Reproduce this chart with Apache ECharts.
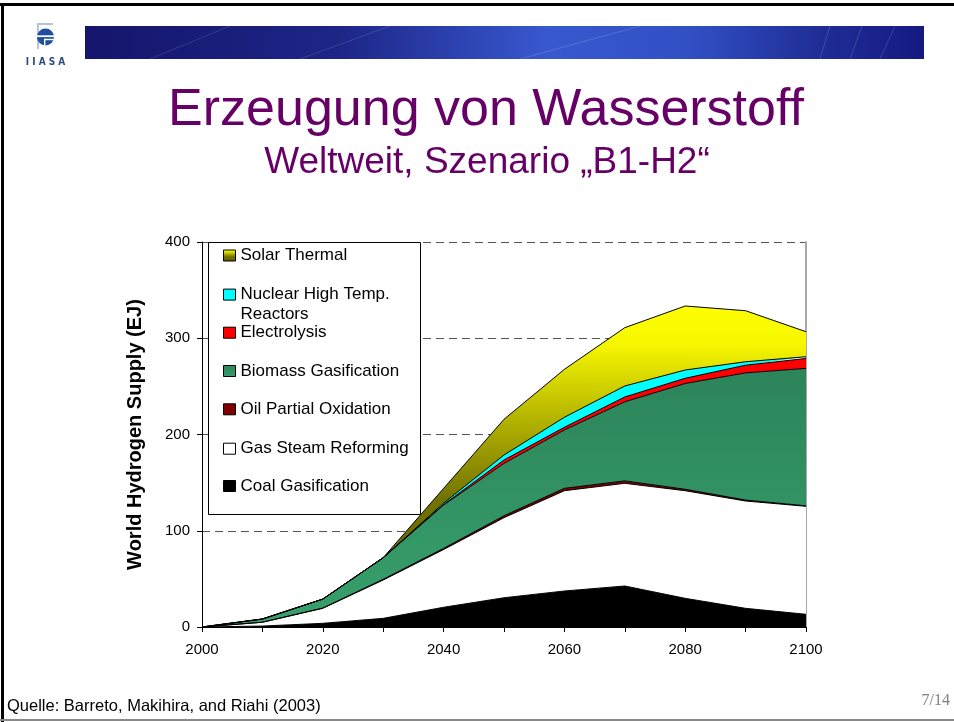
<!DOCTYPE html>
<html><head><meta charset="utf-8">
<script src="https://cdn.jsdelivr.net/npm/echarts@6/dist/echarts.min.js"></script>
<style>html,body{margin:0;padding:0;background:#fff}#c{width:954px;height:722px}</style>
</head><body><div id="c"></div>
<script>
// ---- data (EJ) ----
const years = ['2000','2010','2020','2030','2040','2050','2060','2070','2080','2090','2100'];
const coalGasification    = [0, 1, 3.8, 9, 20.5, 30.4, 37.4, 42.6, 29.8, 19.4, 13.2];
const gasSteamReforming   = [0, 3.9, 15.6, 39.8, 60, 83.2, 104.2, 106.7, 111.8, 111.5, 112.2];
const oilPartialOxidation = [0, 0.1, 0.3, 0.8, 1.2, 2, 2.5, 2.5, 1.5, 1, 0.5];
const biomassGasification = [0, 3.3, 9.3, 22.4, 45, 54.4, 60.6, 82.2, 109.9, 132.1, 142.8];
const electrolysis        = [0, 0, 0, 0, 0.5, 3.5, 2.8, 5, 5.4, 8, 10.3];
const nuclearHighTemp     = [0, 0, 0, 0, 1.5, 5.2, 10.4, 11.4, 8.6, 3.6, 1.8];
const solarThermal        = [0, 0, 0, 0, 15.3, 37.1, 49.8, 60.6, 66.5, 53, 26];
const yTicks = [0, 100, 200, 300, 400];

const names = {
  coal: 'Coal Gasification', gas: 'Gas Steam Reforming', oil: 'Oil Partial Oxidation',
  bio: 'Biomass Gasification', elec: 'Electrolysis', nuc: 'Nuclear High Temp. Reactors', sol: 'Solar Thermal'
};

const FONT = "'Liberation Sans', Arial, sans-serif";
const G = echarts.graphic;
const solarFill = new G.LinearGradient(0, 0, 0, 1, [
  {offset: 0, color: '#ffff00'}, {offset: 0.12, color: '#f6f600'},
  {offset: 0.35, color: '#b4b400'}, {offset: 0.6, color: '#737300'}, {offset: 1, color: '#5c5c00'}]);
const bioFill = new G.LinearGradient(0, 0, 0, 1, [
  {offset: 0, color: '#2c845a'}, {offset: 1, color: '#37a06c'}]);

function mk(name, data, fill) {
  return {
    name, type: 'line', stack: 'total', data, symbol: 'none', showSymbol: false,
    lineStyle: {color: '#000', width: 1},
    itemStyle: {color: fill},
    areaStyle: {color: fill, opacity: 1},
    emphasis: {disabled: true}, z: 2
  };
}

const legendBase = {
  left: 223, padding: 0, orient: 'vertical', itemWidth: 12, itemHeight: 11, icon: 'rect',
  itemStyle: {borderColor: '#000', borderWidth: 1},
  textStyle: {fontSize: 17, lineHeight: 20, color: '#000', fontFamily: FONT},
  selectedMode: false, z: 10
};
function lg(name, center, extra) {
  return Object.assign({}, legendBase, {data: [name], top: center - 10}, extra || {});
}

const chart = echarts.init(document.getElementById('c'), null, {renderer: 'canvas'});
chart.setOption({
  animation: false,
  backgroundColor: '#fff',
  grid: {left: 202, right: 148, top: 242, bottom: 95},
  xAxis: {
    type: 'category', data: years, boundaryGap: false,
    axisLine: {lineStyle: {color: '#000', width: 1}},
    axisTick: {interval: 0, length: 5, lineStyle: {color: '#000'}},
    axisLabel: {interval: 1, color: '#000', fontSize: 15, fontFamily: FONT, margin: 15},
    splitLine: {show: false}
  },
  yAxis: [{
    type: 'value', min: yTicks[0], max: yTicks[yTicks.length - 1], interval: 100,
    name: 'World Hydrogen Supply (EJ)', nameLocation: 'middle', nameGap: 57,
    nameTextStyle: {fontSize: 20, fontWeight: 'bold', color: '#000', fontFamily: FONT},
    axisLine: {show: true, lineStyle: {color: '#000'}},
    axisTick: {show: true, length: 5, lineStyle: {color: '#000'}},
    axisLabel: {color: '#000', fontSize: 15, fontFamily: FONT, margin: 12},
    splitLine: {show: true, lineStyle: {color: '#555', type: [8, 5], width: 1}}
  }, {
    type: 'value', min: 0, max: 400, position: 'right',
    axisLine: {show: true, lineStyle: {color: '#a8a8a8', width: 2}},
    axisTick: {show: false}, axisLabel: {show: false}, splitLine: {show: false}
  }],
  legend: [
    lg(names.sol, 255.5),
    Object.assign({}, legendBase, {data: [names.nuc], top: 294.6 - 30,
      formatter: () => ' \nNuclear High Temp.\nReactors'}),
    lg(names.elec, 332.7),
    lg(names.bio, 371),
    lg(names.oil, 409.3),
    lg(names.gas, 448.7),
    lg(names.coal, 486)
  ],
  series: [
    mk(names.coal, coalGasification, '#000000'),
    mk(names.gas, gasSteamReforming, '#ffffff'),
    mk(names.oil, oilPartialOxidation, '#800000'),
    mk(names.bio, biomassGasification, bioFill),
    mk(names.elec, electrolysis, '#ff0000'),
    mk(names.nuc, nuclearHighTemp, '#00ffff'),
    mk(names.sol, solarThermal, solarFill)
  ],
  graphic: [
    // page frame
    {type: 'rect', shape: {x: 0, y: 3, width: 954, height: 3}, style: {fill: '#000'}, z: 20},
    {type: 'rect', shape: {x: 1, y: 3, width: 3, height: 719}, style: {fill: '#000'}, z: 20},
    {type: 'rect', shape: {x: 0, y: 719, width: 954, height: 2}, style: {fill: '#8a8a8a'}, z: 20},
    // header banner
    {type: 'rect', shape: {x: 85, y: 26, width: 839, height: 33}, z: 20,
      style: {fill: new G.LinearGradient(0, 0, 1, 0, [
        {offset: 0, color: '#15156c'}, {offset: 0.3, color: '#1d2586'},
        {offset: 0.55, color: '#3858cf'}, {offset: 0.72, color: '#3150c4'},
        {offset: 0.88, color: '#1f2c95'}, {offset: 1, color: '#151a82'}])}},
    {type: 'polyline', shape: {points: [[150, 59], [230, 26]]}, style: {stroke: 'rgba(255,255,255,0.12)', lineWidth: 1}, z: 21},
    {type: 'polyline', shape: {points: [[300, 59], [390, 26]]}, style: {stroke: 'rgba(255,255,255,0.12)', lineWidth: 1}, z: 21},
    {type: 'polyline', shape: {points: [[520, 59], [640, 26]]}, style: {stroke: 'rgba(255,255,255,0.15)', lineWidth: 1}, z: 21},
    {type: 'polyline', shape: {points: [[820, 59], [830, 26]]}, style: {stroke: 'rgba(255,255,255,0.15)', lineWidth: 1}, z: 21},
    {type: 'polyline', shape: {points: [[850, 59], [862, 26]]}, style: {stroke: 'rgba(255,255,255,0.15)', lineWidth: 1}, z: 21},
    {type: 'polyline', shape: {points: [[880, 59], [895, 26]]}, style: {stroke: 'rgba(255,255,255,0.15)', lineWidth: 1}, z: 21},
    // logo
    {type: 'rect', shape: {x: 37, y: 23, width: 16, height: 2}, style: {fill: '#b8c4d8'}, z: 20},
    {type: 'rect', shape: {x: 37, y: 23, width: 2, height: 26}, style: {fill: '#b8c4d8'}, z: 20},
    {type: 'circle', shape: {cx: 45.5, cy: 37, r: 8.5}, style: {fill: '#1f4f9f'}, z: 20},
    {type: 'rect', shape: {x: 36, y: 35.3, width: 19, height: 1.8}, style: {fill: '#fff'}, z: 21},
    {type: 'rect', shape: {x: 44, y: 38.8, width: 11, height: 1.4}, style: {fill: '#fff'}, z: 21},
    {type: 'rect', shape: {x: 44, y: 38.8, width: 1.4, height: 7}, style: {fill: '#fff'}, z: 21},
    {type: 'text', x: 45.5, y: 62, z: 20, style: {text: 'I I A S A', fontSize: 10, fontWeight: 'bold', fill: '#2c4a80', fontFamily: "'Liberation Sans Narrow', 'DejaVu Sans Condensed', sans-serif", align: 'center', verticalAlign: 'middle'}},
    // titles
    {type: 'text', x: 486, y: 111, z: 20, style: {text: 'Erzeugung von Wasserstoff', fontSize: 52, fill: '#660066', fontFamily: FONT, align: 'center', verticalAlign: 'middle'}},
    {type: 'text', x: 487, y: 163, z: 20, style: {text: 'Weltweit, Szenario \u201eB1-H2\u201c', fontSize: 37, fill: '#660066', fontFamily: FONT, align: 'center', verticalAlign: 'middle'}},
    // legend frame
    {type: 'rect', shape: {x: 208.5, y: 242.5, width: 212, height: 272}, style: {fill: '#fff', stroke: '#000', lineWidth: 1}, z: 5},
    // footer
    {type: 'text', x: 7, y: 706, z: 20, style: {text: 'Quelle: Barreto, Makihira, and Riahi (2003)', fontSize: 16.5, fill: '#000', fontFamily: FONT, align: 'left', verticalAlign: 'middle'}},
    {type: 'text', x: 950, y: 701, z: 20, style: {text: '7/14', fontSize: 16, fill: '#808080', fontFamily: "'Liberation Serif', 'Times New Roman', serif", align: 'right', verticalAlign: 'middle'}}
  ]
});
</script></body></html>
